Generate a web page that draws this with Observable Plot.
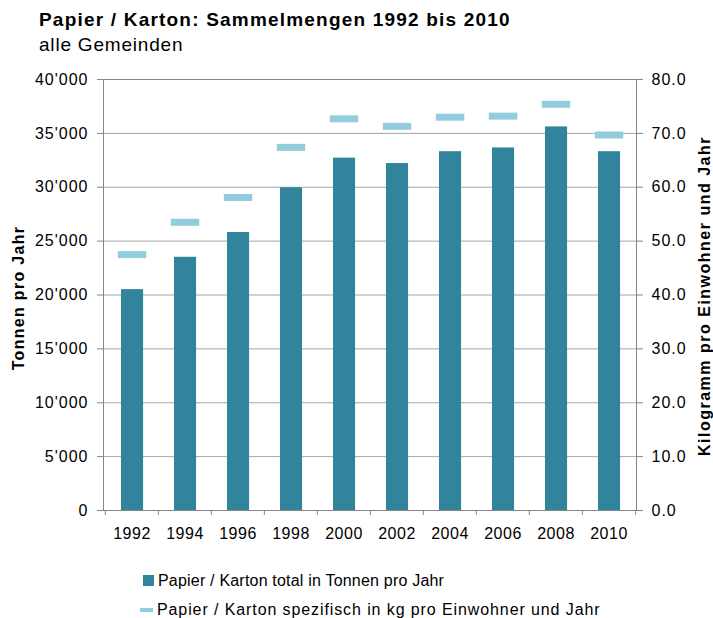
<!DOCTYPE html>
<html><head><meta charset="utf-8">
<script src="https://cdn.jsdelivr.net/npm/d3@7"></script>
<script src="https://cdn.jsdelivr.net/npm/@observablehq/plot@0.6"></script>
<style>
body{margin:0;background:#fff;font-family:"Liberation Sans",Arial,sans-serif;color:#000;}
#wrap{position:relative;width:713px;height:618px;overflow:hidden;}
#title{position:absolute;left:39px;top:9px;font-weight:bold;font-size:19px;letter-spacing:1.2px;white-space:nowrap;}
#sub{position:absolute;left:39px;top:34px;font-size:19px;letter-spacing:0.8px;white-space:nowrap;}
#chart{position:absolute;left:0;top:60px;}
#legend{position:absolute;left:140px;top:566px;font-size:16px;}
.li{display:flex;align-items:center;height:29px;white-space:nowrap;}
.sw{display:inline-block;margin-right:4px;}
</style></head><body>
<div id="wrap">
<div id="title">Papier / Karton: Sammelmengen 1992 bis 2010</div>
<div id="sub">alle Gemeinden</div>
<div id="chart"></div>
<div id="legend"></div>
</div>
<script>
const years = ["1992","1994","1996","1998","2000","2002","2004","2006","2008","2010"];
const tonnenProJahr = [20500, 23500, 25800, 29950, 32700, 32200, 33300, 33650, 35600, 33300];
const kgProEinwohner = [47.5, 53.5, 58.1, 67.4, 72.7, 71.3, 73.0, 73.2, 75.4, 69.7];
const leftTicks = [0, 5000, 10000, 15000, 20000, 25000, 30000, 35000, 40000];
const leftMax = 40000, rightMax = 80;
const ratio = leftMax / rightMax;

const barColor = "#31849B";
const dashColor = "#93CDDD";
const seriesBar = "Papier / Karton total in Tonnen pro Jahr";
const seriesDash = "Papier / Karton spezifisch in kg pro Einwohner und Jahr";
const leftTitle = "Tonnen pro Jahr";
const rightTitle = "Kilogramm pro Einwohner und Jahr";

const data = years.map((y, i) => ({year: y, t: tonnenProJahr[i], kg: kgProEinwohner[i]}));
const fmt = d3.formatLocale({decimal: ".", thousands: "'", grouping: [3], currency: ["", ""]}).format(",");

const W = 713, H = 490, mL = 103, mR = 77, mT = 19, mB = 40;
const bw = (W - mL - mR) / years.length;

const chart = Plot.plot({
  width: W, height: H,
  marginLeft: mL, marginRight: mR, marginTop: mT, marginBottom: mB,
  style: {fontFamily: "'Liberation Sans', Arial, sans-serif", fontSize: "16px", color: "#000", background: "#fff"},
  x: {type: "band", domain: years, padding: 0, axis: null},
  y: {domain: [0, leftMax], axis: null},
  marks: [
    Plot.gridY(leftTicks, {stroke: "#a6a6a6", strokeOpacity: 1, strokeWidth: 1}),
    Plot.barY(data, {x: "year", y: "t", fill: barColor, insetLeft: bw * 0.3, insetRight: bw * 0.28}),
    Plot.tickY(data, {x: "year", y: d => d.kg * ratio, stroke: dashColor, strokeWidth: 7, insetLeft: bw * 0.24, insetRight: bw * 0.22}),
    Plot.ruleY([0], {stroke: "#868686"}),
    Plot.frame({stroke: "#868686", fill: "none"}),
    Plot.axisY(leftTicks, {anchor: "left", tickSize: 6, tickPadding: 9, stroke: "#868686", fill: "#000", tickFormat: fmt, fontSize: 16, label: null}),
    Plot.axisY(leftTicks, {anchor: "right", tickSize: 6, tickPadding: 9, stroke: "#868686", fill: "#000", tickFormat: d => (d / ratio).toFixed(1), fontSize: 16, label: null}),
    Plot.axisX(years, {anchor: "bottom", tickSize: 0, tickPadding: 17, fill: "#000", fontSize: 16, label: null}),
    Plot.axisX(years, {anchor: "bottom", tickSize: 5, tickFormat: () => "", stroke: "#868686", dx: -bw / 2, label: null}),
    Plot.axisX([years[years.length - 1]], {anchor: "bottom", tickSize: 5, tickFormat: () => "", stroke: "#868686", dx: bw / 2, label: null}),
    Plot.text([leftTitle], {frameAnchor: "left", textAnchor: "middle", rotate: -90, dx: -85, dy: 3, fontWeight: "bold", fontSize: 16, fill: "#000"}),
    Plot.text([rightTitle], {frameAnchor: "right", textAnchor: "middle", rotate: -90, dx: 68, dy: 1, fontWeight: "bold", fontSize: 16, fill: "#000"})
  ]
});
document.getElementById("chart").appendChild(chart);

// widen text spacing to match the reference rendering
const xLabels = new Set(years);
d3.select(chart).selectAll("text").each(function () {
  const t = this.textContent;
  let ls = "1px";
  if (t === leftTitle) ls = "1.3px";
  else if (t === rightTitle) ls = "1.5px";
  else if (xLabels.has(t)) ls = "0.5px";
  this.style.letterSpacing = ls;
});

const leg = document.getElementById("legend");
leg.innerHTML =
  `<div class="li" style="letter-spacing:0.2px"><span class="sw" style="width:11px;height:11px;background:${barColor};margin-left:3px;"></span>${seriesBar}</div>` +
  `<div class="li" style="letter-spacing:0.9px"><span class="sw" style="width:13px;height:4px;background:${dashColor};"></span>${seriesDash}</div>`;
</script>
</body></html>
